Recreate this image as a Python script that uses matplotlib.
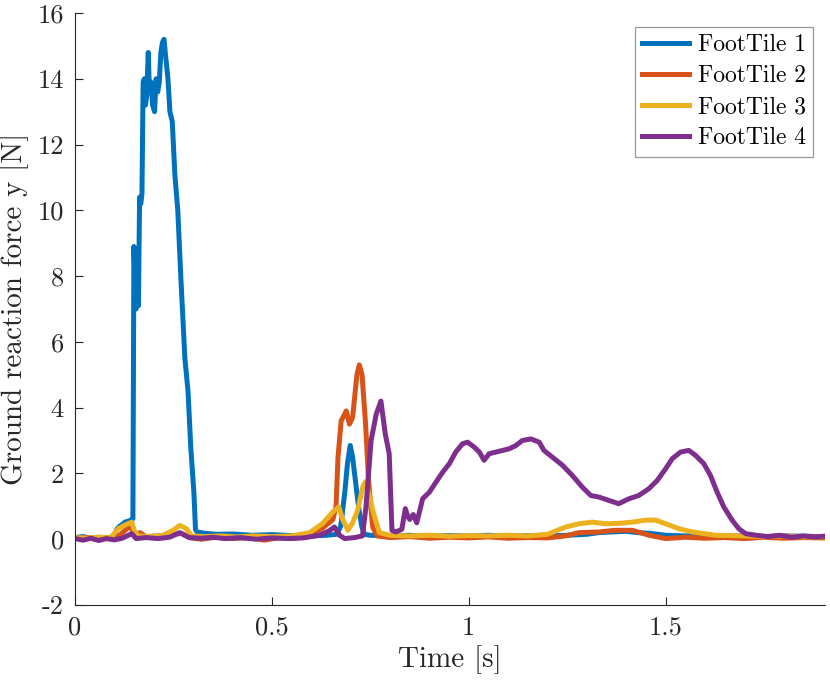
import matplotlib
matplotlib.use("Agg")
import matplotlib.pyplot as plt

# MATLAB default line colours
COLORS = ["#0072BD", "#D95319", "#EDB120", "#7E2F8E"]
LABELS = ["FootTile 1", "FootTile 2", "FootTile 3", "FootTile 4"]

XTICKS = [0, 0.5, 1, 1.5]
XTICKLABELS = ["0", "0.5", "1", "1.5"]
YTICKS = [-2, 0, 2, 4, 6, 8, 10, 12, 14, 16]
YTICKLABELS = ["-2", "0", "2", "4", "6", "8", "10", "12", "14", "16"]

# FootTile 1
t1 = [0.00, 0.02, 0.04, 0.06, 0.08, 0.10, 0.106, 0.112, 0.120, 0.127, 0.135, 0.142,
      0.147, 0.1495, 0.152, 0.155, 0.158, 0.161, 0.164, 0.167, 0.170, 0.173, 0.176,
      0.179, 0.182, 0.186, 0.189, 0.193, 0.197, 0.202, 0.206, 0.210, 0.214, 0.218,
      0.222, 0.226, 0.230, 0.236, 0.241, 0.247, 0.2535, 0.261, 0.269, 0.279, 0.287,
      0.294, 0.302, 0.306, 0.310, 0.33, 0.36, 0.40, 0.45, 0.50, 0.55, 0.60, 0.64,
      0.665, 0.675, 0.685, 0.692, 0.699, 0.705, 0.712, 0.72, 0.728, 0.735, 0.75,
      0.80, 0.85, 0.90, 0.95, 1.00, 1.05, 1.10, 1.15, 1.20, 1.25, 1.30, 1.33, 1.36,
      1.40, 1.43, 1.46, 1.50, 1.55, 1.60, 1.65, 1.70, 1.75, 1.80, 1.85, 1.90]
f1 = [0.05, 0.08, 0.03, 0.06, 0.04, 0.07, 0.30, 0.38, 0.45, 0.52, 0.55, 0.58,
      0.62, 8.9, 8.0, 7.0, 7.6, 7.1, 10.4, 10.2, 10.5, 13.9, 14.0,
      13.2, 13.5, 14.8, 13.6, 13.9, 13.2, 13.0, 14.0, 13.6, 13.9, 14.8,
      15.1, 15.2, 14.7, 14.0, 13.0, 12.7, 11.1, 10.0, 7.9, 5.5, 4.5,
      2.8, 1.4, 0.3, 0.22, 0.18, 0.15, 0.16, 0.12, 0.14, 0.11, 0.10, 0.12,
      0.15, 0.4, 1.4, 2.3, 2.85, 2.5, 1.8, 1.0, 0.4, 0.15, 0.12,
      0.10, 0.12, 0.09, 0.11, 0.10, 0.12, 0.09, 0.11, 0.10, 0.12, 0.15, 0.20, 0.22,
      0.24, 0.20, 0.18, 0.12, 0.10, 0.12, 0.09, 0.11, 0.08, 0.10, 0.09, 0.08]

# FootTile 2
t2 = [0.00, 0.03, 0.06, 0.09, 0.11, 0.13, 0.142, 0.15, 0.165, 0.18, 0.21, 0.24,
      0.27, 0.29, 0.32, 0.36, 0.40, 0.45, 0.48, 0.52, 0.56, 0.60, 0.63, 0.655,
      0.663, 0.668, 0.676, 0.689, 0.697, 0.705, 0.716, 0.722, 0.729, 0.738, 0.746,
      0.756, 0.768, 0.80, 0.85, 0.90, 0.95, 1.00, 1.05, 1.10, 1.15, 1.20, 1.246,
      1.28, 1.331, 1.37, 1.416, 1.458, 1.50, 1.55, 1.60, 1.65, 1.70, 1.75, 1.80,
      1.85, 1.90]
f2 = [0.02, 0.05, 0.00, 0.04, 0.08, 0.30, 0.40, 0.10, 0.20, 0.08, 0.10, 0.12,
      0.18, 0.05, 0.00, 0.06, 0.02, 0.05, -0.03, 0.05, 0.03, 0.15, 0.35, 0.6,
      1.0, 2.5, 3.6, 3.9, 3.5, 3.7, 5.0, 5.3, 5.0, 3.5, 1.7,
      0.37, 0.10, 0.05, 0.08, 0.03, 0.06, 0.04, 0.07, 0.03, 0.05, 0.04, 0.10,
      0.20, 0.22, 0.27, 0.27, 0.12, 0.02, 0.06, 0.03, 0.05, 0.02, 0.06, 0.03,
      0.05, 0.04]

# FootTile 3
t3 = [0.00, 0.03, 0.06, 0.09, 0.11, 0.13, 0.144, 0.151, 0.16, 0.19, 0.22, 0.249,
      0.266, 0.283, 0.296, 0.33, 0.37, 0.41, 0.45, 0.50, 0.55, 0.596, 0.629, 0.655,
      0.670, 0.680, 0.693, 0.705, 0.718, 0.731, 0.738, 0.748, 0.758, 0.773, 0.80,
      0.85, 0.90, 0.95, 1.00, 1.05, 1.10, 1.15, 1.20, 1.246, 1.28, 1.314, 1.348,
      1.38, 1.416, 1.449, 1.475, 1.50, 1.534, 1.568, 1.627, 1.70, 1.75, 1.80, 1.85,
      1.90]
f3 = [0.05, 0.03, 0.06, 0.04, 0.32, 0.45, 0.52, 0.25, 0.10, 0.08, 0.10, 0.27,
      0.42, 0.32, 0.10, 0.08, 0.10, 0.07, 0.10, 0.08, 0.10, 0.20, 0.48, 0.83,
      0.98, 0.6, 0.27, 0.5, 0.88, 1.6, 1.75, 1.3, 0.8, 0.2, 0.12,
      0.10, 0.12, 0.09, 0.11, 0.10, 0.12, 0.10, 0.15, 0.37, 0.47, 0.52, 0.47,
      0.48, 0.52, 0.58, 0.58, 0.47, 0.32, 0.22, 0.12, 0.10, 0.08, 0.10, 0.07,
      0.08]

# FootTile 4
t4 = [0.00, 0.02, 0.04, 0.06, 0.08, 0.10, 0.12, 0.144, 0.155, 0.18, 0.21, 0.24,
      0.266, 0.29, 0.32, 0.35, 0.38, 0.42, 0.46, 0.50, 0.54, 0.58, 0.62, 0.645,
      0.659, 0.672, 0.685, 0.71, 0.73, 0.739, 0.752, 0.765, 0.777, 0.788, 0.798,
      0.805, 0.815, 0.83, 0.839, 0.845, 0.850, 0.859, 0.868, 0.883, 0.900, 0.917,
      0.934, 0.951, 0.967, 0.984, 0.997, 1.014, 1.027, 1.039, 1.052, 1.069, 1.086,
      1.103, 1.120, 1.136, 1.158, 1.179, 1.191, 1.212, 1.238, 1.263, 1.288, 1.310,
      1.331, 1.356, 1.381, 1.407, 1.432, 1.458, 1.479, 1.500, 1.517, 1.538, 1.559,
      1.576, 1.597, 1.614, 1.631, 1.648, 1.669, 1.686, 1.703, 1.73, 1.76, 1.79,
      1.82, 1.85, 1.88, 1.90]
f4 = [0.02, -0.03, 0.03, -0.04, 0.02, -0.02, 0.03, 0.17, 0.02, 0.05, 0.02, 0.06,
      0.20, 0.05, 0.03, 0.06, 0.02, 0.05, 0.00, 0.04, 0.02, 0.04, 0.12, 0.25,
      0.37, 0.12, 0.02, 0.05, 0.10, 0.98, 3.0, 3.8, 4.2, 3.2, 2.6,
      0.27, 0.22, 0.30, 0.93, 0.7, 0.6, 0.75, 0.5, 1.23, 1.43, 1.74,
      2.04, 2.3, 2.65, 2.9, 2.95, 2.8, 2.65, 2.4, 2.6, 2.65, 2.7,
      2.75, 2.85, 3.0, 3.05, 2.95, 2.7, 2.5, 2.25, 1.94, 1.59, 1.33,
      1.28, 1.18, 1.08, 1.23, 1.33, 1.54, 1.79, 2.14, 2.45, 2.65, 2.7,
      2.55, 2.3, 1.94, 1.43, 0.98, 0.58, 0.32, 0.17, 0.12, 0.08, 0.12,
      0.06, 0.10, 0.07, 0.09]

plt.rcParams["font.family"] = ["cmr10", "DejaVu Serif"]
plt.rcParams["axes.unicode_minus"] = False
plt.rcParams["axes.formatter.use_mathtext"] = True

fig = plt.figure(figsize=(8.3, 6.84), dpi=100)
ax = fig.add_axes([0.0904, 0.1155, 0.9036, 0.8655])

for t, f, c, lab in zip([t1, t2, t3, t4], [f1, f2, f3, f4], COLORS, LABELS):
    ax.plot(t, f, color=c, lw=3.6, label=lab, solid_joinstyle="round")

ax.set_xlim(0, 1.905)
ax.set_ylim(-2, 16)
ax.set_xticks(XTICKS)
ax.set_xticklabels(XTICKLABELS)
ax.set_yticks(YTICKS)
ax.set_yticklabels(YTICKLABELS)

for side in ["top", "right"]:
    ax.spines[side].set_visible(False)
for side in ["left", "bottom"]:
    ax.spines[side].set_color("#262626")
    ax.spines[side].set_linewidth(0.8)
ax.tick_params(direction="in", length=6, width=0.8, color="#262626",
               labelsize=19, labelcolor="#262626", pad=8)

ax.set_xlabel("Time [s]", fontsize=21, color="#262626", labelpad=4)
ax.set_ylabel("Ground reaction force y [N]", fontsize=21, color="#262626", labelpad=6)

leg = ax.legend(loc="upper right", bbox_to_anchor=(813 / 830, 1 - 27 / 684),
                bbox_transform=fig.transFigure, fontsize=17, frameon=True,
                fancybox=False, borderaxespad=0, handlelength=2.0,
                handletextpad=0.38, labelspacing=0.38, borderpad=0.3)
leg.get_frame().set_edgecolor("#7f7f7f")
leg.get_frame().set_linewidth(0.9)

fig.savefig("out.png", dpi=100)
